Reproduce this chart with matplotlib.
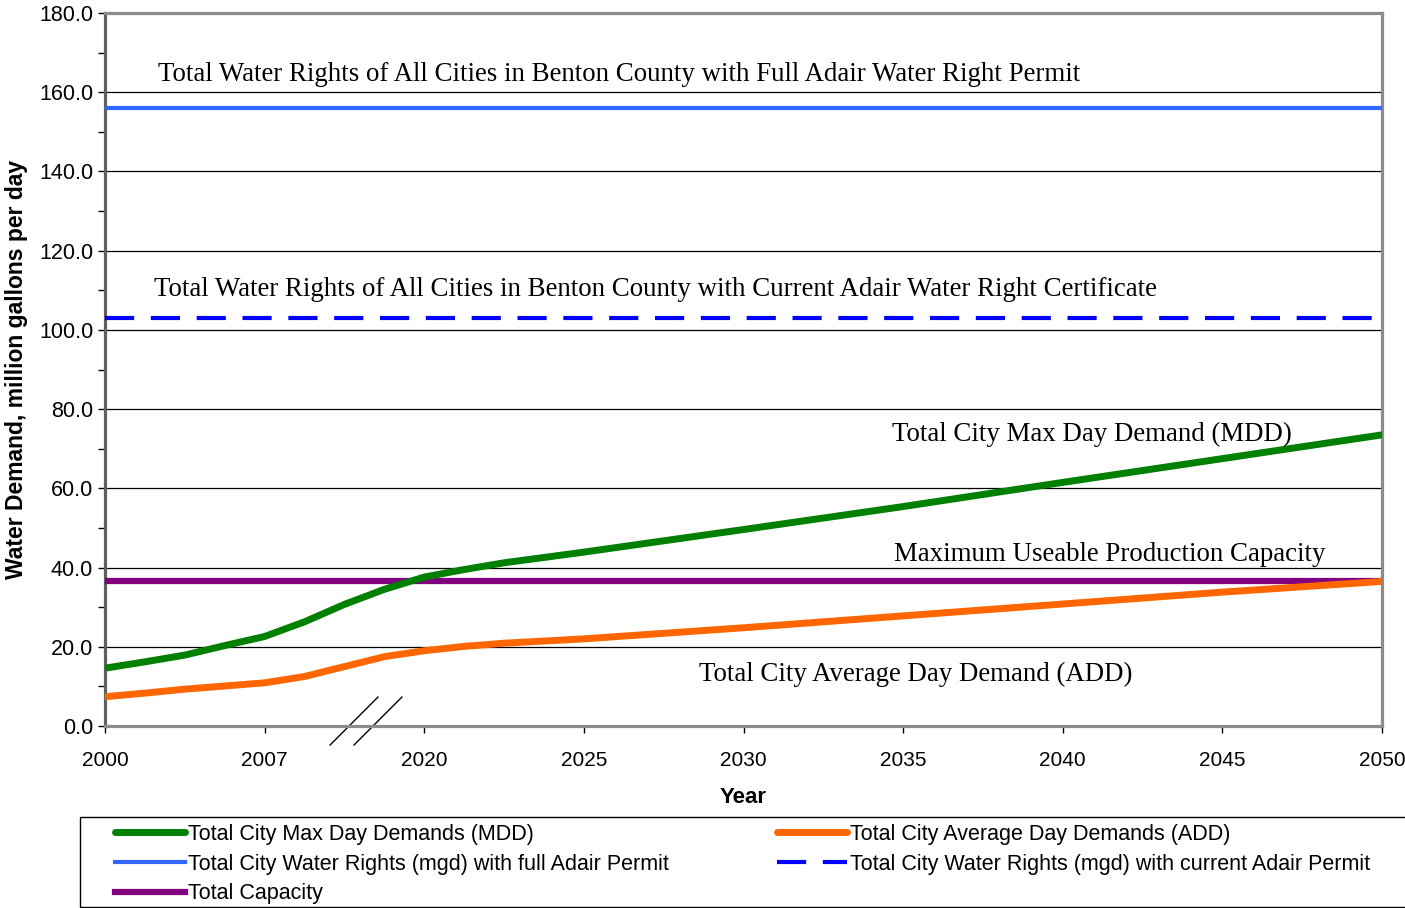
import matplotlib.pyplot as plt
from matplotlib.patches import Rectangle

# x axis is categorical (broken between 2007 and 2020)
tick_labels = ['2000', '2007', '2020', '2025', '2030', '2035', '2040', '2045', '2050']
tick_pos = list(range(len(tick_labels)))

# sampled positions along category axis (0 = 2000, 1 = 2007, 2 = 2020, ...)
x_pos = [0, 0.25, 0.5, 0.75, 1, 1.25, 1.5, 1.75, 2, 2.25, 2.5, 3, 4, 5, 6, 7, 8]
mdd = [14.6, 16.2, 17.9, 20.3, 22.6, 26.3, 30.7, 34.5, 37.6, 39.5, 41.2, 43.9,
       49.6, 55.4, 61.5, 67.5, 73.5]
add = [7.4, 8.3, 9.3, 10.1, 10.9, 12.5, 15.0, 17.5, 19.0, 20.1, 20.9, 22.0,
       24.8, 27.8, 30.8, 33.8, 36.5]
rights_full = 156.0
rights_current = 103.0
capacity = 36.5

plt.rcParams['font.family'] = ['Liberation Sans', 'DejaVu Sans']

fig = plt.figure(figsize=(14.05, 9.08), dpi=100)
ax = fig.add_axes([105 / 1405, 1 - 726 / 908, (1382 - 105) / 1405, (726 - 13) / 908])

xs = [tick_pos[0], tick_pos[-1]]
l_mdd, = ax.plot(x_pos, mdd, color='#008000', lw=5, solid_capstyle='round',
                 solid_joinstyle='round', label='Total City Max Day Demands (MDD)', zorder=4)
l_add, = ax.plot(x_pos, add, color='#FF6600', lw=5, solid_capstyle='round',
                 solid_joinstyle='round', label='Total City Average Day Demands (ADD)', zorder=5)
l_full, = ax.plot(xs, [rights_full] * 2, color='#3366FF', lw=3,
                  label='Total City Water Rights (mgd) with full Adair Permit', zorder=3)
l_cur, = ax.plot(xs, [rights_current] * 2, color='#0000FF', lw=3, dashes=(7, 4),
                 label='Total City Water Rights (mgd) with current Adair Permit', zorder=3)
l_cap, = ax.plot(xs, [capacity] * 2, color='#800080', lw=4.5,
                 label='Total Capacity', zorder=3)

ax.set_xlim(0, 8)
ax.set_ylim(0, 180)
ax.set_xticks(tick_pos)
ax.set_xticklabels(tick_labels, fontsize=15)
ax.set_yticks(range(0, 181, 20))
ax.set_yticklabels([f'{v:.1f}' for v in range(0, 181, 20)], fontsize=15.5)
ax.set_yticks(range(10, 180, 20), minor=True)
ax.tick_params(axis='both', direction='out', length=5, width=1, color='black')
ax.tick_params(axis='y', which='minor', direction='out', length=5, width=1)
ax.tick_params(axis='x', pad=13)
ax.grid(axis='y', which='major', color='black', lw=0.9)
ax.set_axisbelow(True)
for side in ['top', 'right', 'bottom']:
    ax.spines[side].set_color('#8c8c8c')
    ax.spines[side].set_linewidth(2.3)
ax.spines['left'].set_color('#606060')
ax.spines['left'].set_linewidth(2.3)

ax.set_xlabel('Year', fontsize=16, fontweight='bold', labelpad=12)
ax.set_ylabel('Water Demand, million gallons per day', fontsize=16.5, fontweight='bold',
              labelpad=8)

serif = ['Liberation Serif', 'DejaVu Serif']
notes = [
    (0.33, 164.6, 'Total Water Rights of All Cities in Benton County with Full Adair Water Right Permit'),
    (0.31, 110.1, 'Total Water Rights of All Cities in Benton County with Current Adair Water Right Certificate'),
    (4.93, 73.7, 'Total City Max Day Demand (MDD)'),
    (4.94, 43.4, 'Maximum Useable Production Capacity'),
    (3.72, 13.1, 'Total City Average Day Demand (ADD)'),
]
for x, y, s in notes:
    ax.text(x, y, s, family=serif, fontsize=19.4, ha='left', va='center', zorder=6)

# axis break marks
for dx in (0, 0.15):
    ax.plot([1.41 + dx, 1.71 + dx], [-4.8, 7.3], color='black', lw=1, clip_on=False)

# legend box
fig.patches.append(Rectangle((80 / 1405, 1 - 907 / 908), 1.0, (907 - 817) / 908,
                             transform=fig.transFigure, fill=False, ec='black', lw=1))
fig.legend(handles=[l_mdd, l_full, l_cap, l_add, l_cur],
           loc='upper left', bbox_to_anchor=(115 / 1405, 1 - 824 / 908),
           ncol=2, frameon=False, fontsize=15.5, handlelength=3.25, handletextpad=0.15,
           columnspacing=5.0, labelspacing=0.4, borderaxespad=0, borderpad=0)

fig.savefig('out.png', dpi=100)
